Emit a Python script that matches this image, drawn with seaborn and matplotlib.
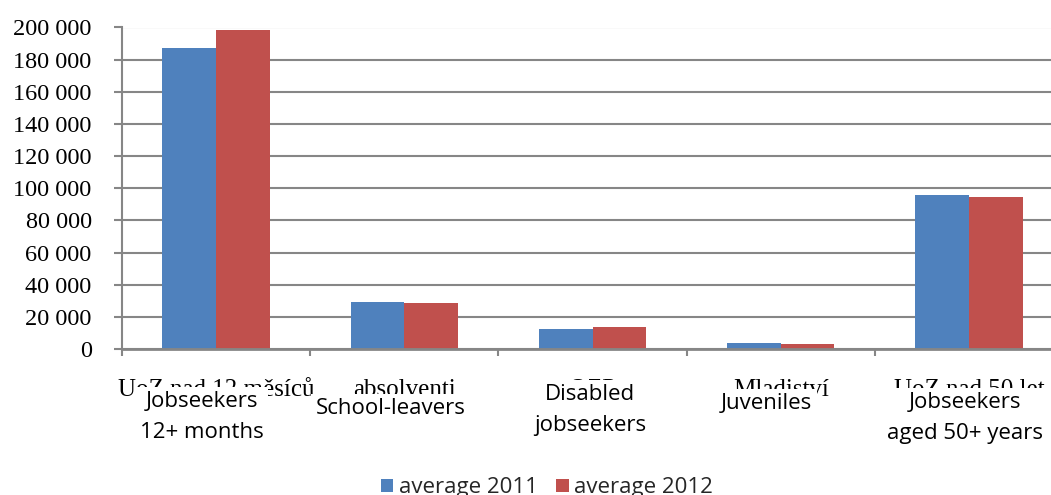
import numpy as np
import pandas as pd
import matplotlib
matplotlib.use("Agg")
import matplotlib.pyplot as plt
import matplotlib.transforms as mtransforms
from matplotlib.ticker import FuncFormatter
import seaborn as sns

# ---- data ----
categories_cz = ["UoZ nad 12 měsíců", "absolventi", "OZP", "Mladiství", "UoZ nad 50 let"]
categories_en = ["Jobseekers\n12+ months", "School-leavers", "Disabled\njobseekers",
                 "Juveniles", "Jobseekers\naged 50+ years"]
series_names = ["average 2011", "average 2012"]
values_2011 = [187000, 29100, 12500, 3500, 96000]
values_2012 = [198300, 28400, 13700, 3100, 94600]
y_ticks = [0, 20000, 40000, 60000, 80000, 100000, 120000, 140000, 160000, 180000, 200000]

colors = ["#4F81BD", "#C0504D"]
GRAY = "#868686"

df = pd.DataFrame({
    "category": categories_cz * 2,
    "series": [series_names[0]] * len(categories_cz) + [series_names[1]] * len(categories_cz),
    "value": values_2011 + values_2012,
})

sns.set_style("white")
plt.rcParams["font.family"] = ["Liberation Serif", "DejaVu Serif"]

W, H = 1051, 495
fig = plt.figure(figsize=(W / 100, H / 100), dpi=100)
ax = fig.add_axes([122 / W, (H - 349) / H, (1063 - 122) / W, (349 - 27.5) / H])

sns.barplot(data=df, x="category", y="value", hue="series", order=categories_cz,
            hue_order=series_names, palette=colors, width=0.57, gap=0,
            saturation=1, linewidth=0, ax=ax, zorder=2)

ax.set_xlim(-0.5, 4.5)
ax.set_ylim(0, 200000)
ax.set_yticks(y_ticks)
ax.yaxis.set_major_formatter(FuncFormatter(lambda v, p: f"{int(v):,}".replace(",", " ")))
ax.set_xticks([i - 0.5 for i in range(len(categories_cz) + 1)])
ax.set_xticklabels([])
ax.set_xlabel("")
ax.set_ylabel("")

ax.tick_params(axis="y", length=5.8, width=1.5, color=GRAY, pad=16, labelsize=17.5,
               labelcolor="black", left=True)
ax.tick_params(axis="x", length=5, width=1.5, color=GRAY, bottom=True)

ax.grid(axis="y", color=GRAY, linewidth=1.5)
ax.grid(axis="x", visible=False)
ax.set_axisbelow(True)
for s in ["top", "right"]:
    ax.spines[s].set_visible(False)
ax.spines["left"].set_color(GRAY)
ax.spines["left"].set_linewidth(1.5)
ax.spines["bottom"].set_color(GRAY)
ax.spines["bottom"].set_linewidth(2)

trans = mtransforms.blended_transform_factory(ax.transData, fig.transFigure)

def fy(px):
    return 1 - px / H

# original (Czech) category labels, partly covered by the English ones
for i, name in enumerate(categories_cz):
    ax.text(i, fy(379), name, transform=trans, ha="center", va="top", fontsize=18,
            family=["Liberation Serif", "DejaVu Serif"], color="black", zorder=3, clip_on=False)

# English overlay labels
en_offsets = [-0.076, -0.074, -0.011, -0.074, -0.021]
en_tops = [391, 398, 384, 393, 392]
for i, name in enumerate(categories_en):
    ax.text(i + en_offsets[i], fy(en_tops[i]), name, transform=trans, ha="center", va="top",
            fontsize=16, family=["Open Sans", "DejaVu Sans"], linespacing=1.6, color="black",
            bbox=dict(facecolor="white", edgecolor="none", pad=3), zorder=6, clip_on=False)

handles, labels = ax.get_legend_handles_labels()
if ax.get_legend() is not None:
    ax.get_legend().remove()
fig.legend(handles, labels, loc="center", bbox_to_anchor=(547 / W, fy(488)), ncol=2,
           frameon=False, prop={"family": "Open Sans", "size": 16},
           handlelength=0.55, handleheight=0.55, handletextpad=0.25,
           columnspacing=0.85, borderpad=0, borderaxespad=0)

fig.savefig("out.png", dpi=100)
